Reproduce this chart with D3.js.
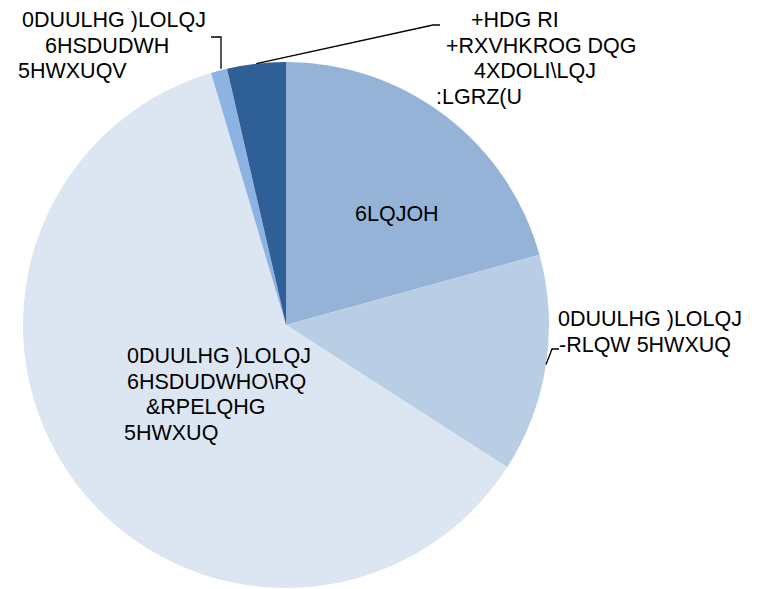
<!DOCTYPE html>
<html>
<head>
<meta charset="utf-8">
<script src="https://cdn.jsdelivr.net/npm/d3@7"></script>
<style>
  body { margin: 0; background: #fff; }
  svg text { font-family: "Liberation Sans", Arial, sans-serif; fill: #000; }
</style>
</head>
<body>
<div id="chart"></div>
<script>
// categories as they appear (glyph-shifted) in the picture, clockwise from 12 o'clock
const categories = ["Single", "Joint", "Combined", "Separate", "HeadOfHousehold"];
const shares = [20.7, 13.4, 61.3, 1.0, 3.6];
const colors = ["#95b3d7", "#b9cde5", "#dce6f2", "#8db3e2", "#2e5f96"];
const labelLines = [
  ["6LQJOH"],
  ["0DUULHG )LOLQJ", "-RLQW 5HWXUQ"],
  ["0DUULHG )LOLQJ", "6HSDUDWHO\\RQ", "&RPELQHG", "5HWXUQ"],
  ["0DUULHG )LOLQJ", "6HSDUDWH", "5HWXUQV"],
  ["+HDG RI", "+RXVHKROG DQG", "4XDOLI\\LQJ", ":LGRZ(U"]
];

const width = 761, height = 589;
const cx = 286, cy = 325, radius = 263;
const fontSize = 21.5;
const lineGap = 25.5;

// label placement: x of each line (start anchored) and baseline of first line
const labelLayout = [
  { xs: [355], y: 221 },
  { xs: [558, 559], y: 326 },
  { xs: [127, 127, 146, 124], y: 363 },
  { xs: [22, 45, 18], y: 27 },
  { xs: [471, 446, 474, 436], y: 27 }
];

const svg = d3.select("#chart").append("svg")
  .attr("width", width)
  .attr("height", height);

const pie = d3.pie().sort(null).value(d => d.value).startAngle(0).endAngle(2 * Math.PI);
const arcs = pie(categories.map((c, i) => ({ name: c, value: shares[i], color: colors[i] })));

const arc = d3.arc().innerRadius(0).outerRadius(radius);
const edgeArc = d3.arc().innerRadius(radius).outerRadius(radius);

const g = svg.append("g").attr("transform", "translate(" + cx + "," + cy + ")");

g.selectAll("path.slice")
  .data(arcs)
  .enter()
  .append("path")
  .attr("class", "slice")
  .attr("d", arc)
  .attr("fill", d => d.data.color)
  .attr("stroke", "none");

// leader lines for the outside labels
const leaderLine = d3.line();
const edge = i => {
  const p = edgeArc.centroid(arcs[i]);
  return [p[0] + cx, p[1] + cy];
};

// joint return
{
  const p = edge(1);
  svg.append("path")
    .attr("d", leaderLine([p, [p[0] + 6, 349], [p[0] + 13, 349]]))
    .attr("fill", "none").attr("stroke", "#000").attr("stroke-width", 1.3);
}
// separate returns
{
  const p = edge(3);
  svg.append("path")
    .attr("d", leaderLine([[p[0] + 2, p[1] - 2], [p[0] + 2, 37], [p[0] - 8, 37]]))
    .attr("fill", "none").attr("stroke", "#000").attr("stroke-width", 1.3);
}
// head of household
{
  const p = edge(4);
  svg.append("path")
    .attr("d", leaderLine([p, [433, 25], [440, 25]]))
    .attr("fill", "none").attr("stroke", "#000").attr("stroke-width", 1.3);
}

labelLines.forEach((lines, i) => {
  const lay = labelLayout[i];
  const t = svg.append("text")
    .attr("font-size", fontSize);
  lines.forEach((line, j) => {
    t.append("tspan")
      .attr("x", lay.xs[j])
      .attr("y", lay.y + j * lineGap)
      .text(line);
  });
});
</script>
</body>
</html>
